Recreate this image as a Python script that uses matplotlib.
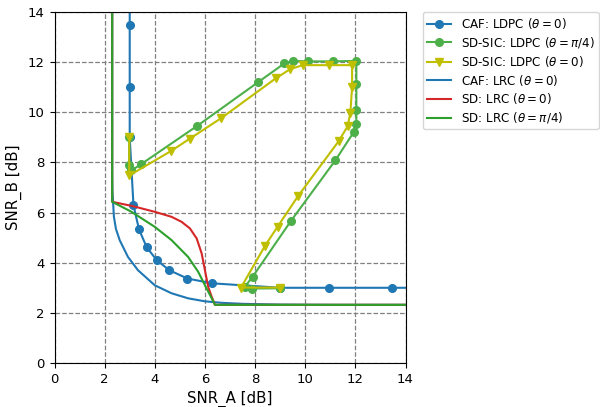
import matplotlib
matplotlib.use("Agg")
import matplotlib.pyplot as plt

# CAF: LDPC (theta=0)
caf_ldpc_x = [3.0, 3.0, 3.0, 3.0, 3.15, 3.37, 3.68, 4.08, 4.58, 5.3, 6.27, 9.0, 10.96, 13.45, 16.0]
caf_ldpc_y = [16.0, 13.5, 11.0, 9.0, 6.29, 5.33, 4.61, 4.1, 3.7, 3.37, 3.18, 3.0, 3.0, 3.0, 3.0]

# SD-SIC: LDPC (theta=pi/4)
sic45_x = [2.98, 2.98, 3.07, 3.44, 5.68, 8.12, 9.17, 9.5, 10.1, 11.1, 12.04, 12.04, 12.04, 12.04, 11.93, 11.2, 9.44, 7.91, 7.6, 7.88, 9.0]
sic45_y = [9.0, 7.88, 7.68, 7.92, 9.45, 11.2, 11.95, 12.05, 12.03, 12.03, 12.05, 11.12, 10.1, 9.52, 9.2, 8.08, 5.68, 3.45, 3.05, 2.97, 2.98]

# SD-SIC: LDPC (theta=0)
sic0_x = [2.98, 2.98, 4.64, 5.4, 6.64, 8.82, 9.4, 9.9, 10.93, 11.87, 11.87, 11.8, 11.69, 11.33, 9.73, 8.9, 8.4, 7.44, 9.0]
sic0_y = [9.0, 7.48, 8.45, 8.95, 9.76, 11.35, 11.72, 11.88, 11.88, 11.88, 11.01, 9.97, 9.44, 8.84, 6.68, 5.44, 4.68, 3.01, 3.01]

# CAF: LRC (theta=0)
caf_lrc_x = [2.3, 2.3, 2.3, 2.31, 2.37, 2.45, 2.6, 2.93, 3.33, 4.0, 4.67, 5.33, 6.0, 6.67, 7.5, 9.0, 11.0, 16.0]
caf_lrc_y = [16.0, 10.0, 7.5, 6.87, 5.83, 5.35, 4.9, 4.23, 3.7, 3.1, 2.78, 2.58, 2.46, 2.4, 2.36, 2.33, 2.32, 2.32]

# SD: LRC (theta=0)
sd0_lrc_x = [2.3, 2.3, 3.15, 4.0, 4.67, 5.07, 5.4, 5.67, 5.87, 6.0, 6.13, 6.27, 6.4, 16.0]
sd0_lrc_y = [16.0, 6.43, 6.25, 6.03, 5.83, 5.63, 5.37, 4.97, 4.37, 3.7, 3.04, 2.64, 2.32, 2.32]

# SD: LRC (theta=pi/4)
sd45_lrc_x = [2.3, 2.3, 3.07, 4.0, 4.67, 5.33, 5.73, 6.0, 6.27, 6.4, 16.0]
sd45_lrc_y = [16.0, 6.43, 6.03, 5.43, 4.9, 4.23, 3.64, 3.1, 2.58, 2.32, 2.32]

fig = plt.figure(figsize=(6.0, 4.07), dpi=100)
ax = fig.add_axes([54.5/600, (407-363)/407, 351/600, 351/407])

ax.plot(caf_ldpc_x, caf_ldpc_y, '-o', color='#1f77b4', lw=1.5, ms=5.5, label=r'CAF: LDPC ($\theta=0$)')
ax.plot(sic45_x, sic45_y, '-o', color='#4daf4a', lw=1.5, ms=5.5, label=r'SD-SIC: LDPC ($\theta=\pi/4$)')
ax.plot(sic0_x, sic0_y, '-v', color='#bfbf00', lw=1.5, ms=6, label=r'SD-SIC: LDPC ($\theta=0$)')
ax.plot(caf_lrc_x, caf_lrc_y, '-', color='#1f77b4', lw=1.5, label=r'CAF: LRC ($\theta=0$)')
ax.plot(sd0_lrc_x, sd0_lrc_y, '-', color='#d62728', lw=1.5, label=r'SD: LRC ($\theta=0$)')
ax.plot(sd45_lrc_x, sd45_lrc_y, '-', color='#2ca02c', lw=1.5, label=r'SD: LRC ($\theta=\pi/4$)')

ax.set_xlim(0, 14)
ax.set_ylim(0, 14)
ax.set_xticks(range(0, 15, 2))
ax.set_yticks(range(0, 15, 2))
ax.tick_params(labelsize=9.5)
ax.grid(True, color='gray', linestyle='--', linewidth=0.9)
ax.set_xlabel('SNR_A [dB]', fontsize=10.8)
ax.set_ylabel('SNR_B [dB]', fontsize=10.8)
ax.legend(loc='upper left', bbox_to_anchor=(1.05, 1.0), borderaxespad=0, fontsize=8.6,
          labelspacing=0.32, borderpad=0.35)

fig.savefig('out.png', dpi=100)
